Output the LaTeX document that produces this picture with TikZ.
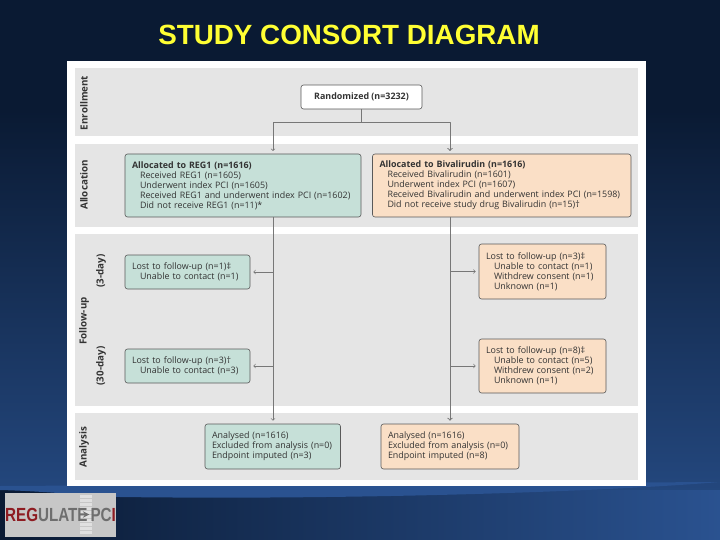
\documentclass[tikz,border=0pt]{standalone}
\usepackage{fontspec}
\setmainfont{Open Sans}
\newfontfamily\titlefont{Liberation Sans}
\definecolor{navytop}{HTML}{0A1A33}
\definecolor{navylow}{HTML}{24487F}
\definecolor{swoosh}{HTML}{2A5290}
\definecolor{titleyellow}{HTML}{FFFF33}
\definecolor{bandgray}{HTML}{E5E5E5}
\definecolor{regfill}{HTML}{C6E0D8}
\definecolor{bivfill}{HTML}{FADFC6}
\definecolor{flowgray}{HTML}{777777}
\definecolor{labelgray}{HTML}{333333}
\definecolor{logored}{HTML}{8E1C22}
\definecolor{logogray}{HTML}{6E6E6E}
\tikzset{
  band/.style={fill=bandgray,draw=none},
  flowbox/.style={draw=black!65,line width=0.6pt,rounded corners=2.5pt,inner xsep=7pt,inner ysep=0pt,
    align=left,font=\fontsize{8.9}{10}\selectfont,text=black!80},
  regbox/.style={flowbox,fill=regfill},
  bivbox/.style={flowbox,fill=bivfill},
  phase/.style={rotate=90,font=\fontsize{9.8}{11}\selectfont\bfseries,text=labelgray},
  flow/.style={draw=flowgray,line width=0.7pt},
  flowarrow/.style={flow,->,shorten >=3pt},
  logotext/.style={inner sep=0pt,xscale=0.8,font=\titlefont\fontsize{19}{20}\selectfont\bfseries},
}
\newcommand{\ind}{\hspace*{8pt}}
\begin{document}
\begin{tikzpicture}[x=1pt,y=-1pt,line join=round,>=to]
\useasboundingbox (0,0) rectangle (720,540);
% background
\fill[navytop] (0,0) rectangle (720,110);
\shade[top color=navytop,bottom color=navylow] (0,110) rectangle (720,500);
\shade[left color=navytop,right color=swoosh] (0,490) rectangle (720,540);
\fill[swoosh] (0,486) -- (720,482) .. controls (600,492) and (350,500) .. (120,497) .. controls (80,495) and (40,491) .. (0,490) -- cycle;
\node[font=\titlefont\fontsize{27.8}{30}\selectfont\bfseries,text=titleyellow] (title) at (349,35) {STUDY CONSORT DIAGRAM};
% panel and bands
\fill[white] (67,61) rectangle (646,486);
\fill[band] (75,68) rectangle (638,136);
\fill[band] (75,144) rectangle (638,227);
\fill[band] (75,234) rectangle (638,406);
\fill[band] (75,413) rectangle (638,480);
\node[phase] (enrol) at (84,103) {Enrollment};
\node[phase] (alloc) at (84,185) {Allocation};
\node[phase] (follow) at (84,321) {Follow-up};
\node[phase] (day3) at (101,271) {(3-day)};
\node[phase] (day30) at (101,366) {(30-day)};
\node[phase] (analysis) at (84,447) {Analysis};
% boxes
\node[flowbox,fill=white,minimum width=121pt,minimum height=24pt,align=center,font=\fontsize{8.9}{10}\selectfont\bfseries] (random) at (361.5,97) {Randomized (n=3232)};
\node[regbox,text width=222pt,minimum height=63pt] (allocreg) at (243,185.5) {\textbf{Allocated to REG1 (n=1616)}\\
  \ind Received REG1 (n=1605)\\
  \ind Underwent index PCI (n=1605)\\
  \ind Received REG1 and underwent index PCI (n=1602)\\
  \ind Did not receive REG1 (n=11)*};
\node[bivbox,text width=244.5pt,minimum height=63pt] (allocbiv) at (501.75,185.5) {\textbf{Allocated to Bivalirudin (n=1616)}\\
  \ind Received Bivalirudin (n=1601)\\
  \ind Underwent index PCI (n=1607)\\
  \ind Received Bivalirudin and underwent index PCI (n=1598)\\
  \ind Did not receive study drug Bivalirudin (n=15)†};
\node[regbox,text width=111pt,minimum height=34pt] (lostreg3) at (187.5,272) {Lost to follow-up (n=1)‡\\
  \ind Unable to contact (n=1)};
\node[regbox,text width=111pt,minimum height=34pt] (lostreg30) at (187.5,366) {Lost to follow-up (n=3)†\\
  \ind Unable to contact (n=3)};
\node[bivbox,text width=113pt,minimum height=55pt] (lostbiv3) at (542.5,271.5) {Lost to follow-up (n=3)‡\\
  \ind Unable to contact (n=1)\\
  \ind Withdrew consent (n=1)\\
  \ind Unknown (n=1)};
\node[bivbox,text width=113pt,minimum height=54pt] (lostbiv30) at (542.5,366) {Lost to follow-up (n=8)‡\\
  \ind Unable to contact (n=5)\\
  \ind Withdrew consent (n=2)\\
  \ind Unknown (n=1)};
\node[regbox,text width=121.5pt,minimum height=45pt] (endreg) at (272.75,446.5) {Analysed (n=1616)\\
  Excluded from analysis (n=0)\\
  Endpoint imputed (n=3)};
\node[bivbox,text width=124pt,minimum height=45pt] (endbiv) at (450,446.5) {Analysed (n=1616)\\
  Excluded from analysis (n=0)\\
  Endpoint imputed (n=8)};
% connectors
\coordinate (split) at (random.south |- 0,122.5);
\coordinate (regtop) at (273,154);
\coordinate (bivtop) at (450,154);
\coordinate (regfoot) at (273,217);
\coordinate (bivfoot) at (450,217);
\draw[flow] (random.south) -- (split);
\draw[flowarrow] (split) -| (regtop);
\draw[flowarrow,line width=1pt] (split) -| (bivtop);
\draw[flowarrow] (regfoot) -- (regfoot |- endreg.north);
\draw[flowarrow,line width=1pt] (bivfoot) -- (bivfoot |- endbiv.north);
\draw[flowarrow] (regfoot |- lostreg3.east) -- (lostreg3.east);
\draw[flowarrow] (regfoot |- lostreg30.east) -- (lostreg30.east);
\draw[flowarrow] (bivfoot |- lostbiv3.west) -- (lostbiv3.west);
\draw[flowarrow] (bivfoot |- lostbiv30.west) -- (lostbiv30.west);
% logo
\fill[black!22] (5,493) rectangle (116,537);
\foreach \y in {495,499,...,533} \fill[black!12] (80,\y) rectangle (92,\y+2.5);
\node[logotext,anchor=west] (logoa) at (5,514.5) {\textcolor{logored}{REG}\textcolor{logogray}{ULATE}};
\node[logotext,anchor=east] (logob) at (116,514.5) {\textcolor{logogray}{PC}\textcolor{logored}{I}};
\draw[logogray,line width=1.8pt,-{stealth},shorten <=1pt,shorten >=1pt] (logoa.east) -- (logob.west);
\end{tikzpicture}
\end{document}
